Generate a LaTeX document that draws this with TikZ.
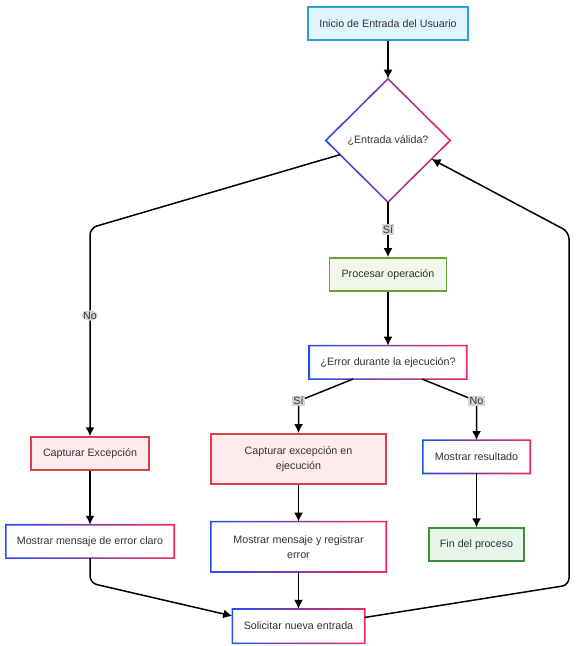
\documentclass[tikz,border=0pt]{standalone}
\usepackage{fontspec}
\setmainfont{Liberation Sans}
\usetikzlibrary{positioning, shapes.geometric, arrows.meta, calc}

\definecolor{txtgray}{HTML}{333333}
\definecolor{startfill}{HTML}{E1F5FE}
\definecolor{startline}{HTML}{2B9FD6}
\definecolor{procfill}{HTML}{F1F8E9}
\definecolor{procline}{HTML}{689F38}
\definecolor{endfill}{HTML}{E8F5E9}
\definecolor{endline}{HTML}{388E3C}
\definecolor{excfill}{HTML}{FFEBEE}
\definecolor{excline}{HTML}{D8404A}
\definecolor{gradL}{HTML}{2250F0}
\definecolor{gradR}{HTML}{F0285A}
\definecolor{lblfill}{HTML}{D4D4D4}

\tikzset{
  box/.style={rectangle, font=\fontsize{10.7}{15}\selectfont, text=txtgray,
    align=center, inner sep=0pt, minimum height=33pt},
  startbox/.style={box, fill=startfill, draw=startline, line width=1.5pt},
  procbox/.style={box, fill=procfill, draw=procline, line width=1.5pt},
  endbox/.style={box, fill=endfill, draw=endline, line width=1.5pt},
  excbox/.style={box, fill=excfill, draw=excline, line width=1.5pt},
  gradbox/.style={box, fill=white},
  decision/.style={diamond, fill=white, inner sep=0pt, text=txtgray,
    font=\fontsize{10.7}{15}\selectfont},
  flow/.style={-{Latex[length=9pt,width=9pt]}, line width=1.5pt, black},
  lbl/.style={fill=lblfill, text=txtgray, inner sep=1.3pt,
    font=\fontsize{10.7}{12}\selectfont}
}

\begin{document}
\begin{tikzpicture}[x=1pt, y=-1pt]
    \useasboundingbox (0,0) rectangle (576,646);
    % main column
    \node[startbox, minimum width=160pt] (start) at (388,23.5) {Inicio de Entrada del Usuario};
    \node[decision, minimum width=124pt, minimum height=123pt,
          below=38pt of start] (valid) {¿Entrada válida?};
    \node[procbox, minimum width=117pt,
          below=55pt of valid] (proc) {Procesar operación};
    \node[gradbox, minimum width=157pt,
          below=54pt of proc] (errq) {¿Error durante la ejecución?};
    % error branch
    \node[excbox, minimum width=175pt, minimum height=50pt,
          below=54pt of errq, xshift=-89.5pt] (runexc) {Capturar excepción en\\ejecución};
    \node[gradbox, minimum width=175pt, minimum height=50pt,
          below=37pt of runexc] (logmsg) {Mostrar mensaje y registrar\\error};
    \node[gradbox, minimum width=132pt, minimum height=34pt,
          below=37pt of logmsg] (retry) {Solicitar nueva entrada};
    % ok branch
    \node[gradbox, minimum width=107pt,
          below=61pt of errq, xshift=88.5pt] (result) {Mostrar resultado};
    \node[endbox, minimum width=95pt,
          below=54pt of result] (done) {Fin del proceso};
    % invalid input branch
    \node[excbox, minimum width=118pt] (catch) at (90,453.5) {Capturar Excepción};
    \node[gradbox, minimum width=168pt,
          below=54pt of catch] (errmsg) {Mostrar mensaje de error claro};

    % gradient borders
    \foreach \n in {errq, logmsg, retry, result, errmsg}
      \shade[left color=gradL, right color=gradR, even odd rule]
        ($(\n.south west)+(-0.8pt,-0.8pt)$) rectangle ($(\n.north east)+(0.8pt,0.8pt)$)
        ($(\n.south west)+(0.8pt,0.8pt)$) rectangle ($(\n.north east)+(-0.8pt,-0.8pt)$);
    \shade[left color=gradL, right color=gradR, even odd rule]
        ($(valid.north)+(0,1.15pt)$) -- ($(valid.east)+(1.15pt,0)$) --
        ($(valid.south)+(0,-1.15pt)$) -- ($(valid.west)+(-1.15pt,0)$) -- cycle
        ($(valid.north)+(0,-1.15pt)$) -- ($(valid.east)+(-1.15pt,0)$) --
        ($(valid.south)+(0,1.15pt)$) -- ($(valid.west)+(1.15pt,0)$) -- cycle;

    % bends
    \coordinate (bendNo) at (90,228);
    \coordinate (bendSi) at (298.5,401);
    \coordinate (bendOk) at (476.5,401);
    \coordinate (bendMsg) at (90,583);
    \coordinate (bendLow) at (569,585);
    \coordinate (bendUp) at (569,232);

    % connectors
    \draw[flow] (start) -- (valid);
    \draw[flow] (valid) -- node[lbl]{Sí} (proc);
    \draw[flow, rounded corners=7pt] ($(valid.west)!0.23!(valid.south)$) -- (bendNo)
        -- node[lbl, pos=0.42]{No} (catch);
    \draw[flow] (proc) -- (errq);
    \draw[flow] ($(errq.south)+(-35pt,0)$) -- (bendSi) node[lbl]{Sí} -- (runexc);
    \draw[flow] ($(errq.south)+(34pt,0)$) -- (bendOk) node[lbl]{No} -- (result);
    \draw[flow] (result) -- (done);
    \draw[flow] (runexc) -- (logmsg);
    \draw[flow] (logmsg) -- (retry);
    \draw[flow] (catch) -- (errmsg);
    \draw[flow, rounded corners=7pt] (errmsg) -- (bendMsg)
        -- ($(retry.north west)+(0,-7pt)$);
    \draw[flow, rounded corners=7pt] ($(retry.north east)+(0,-8.5pt)$) -- (bendLow)
        -- (bendUp) -- ($(valid.east)!0.3!(valid.south)$);
\end{tikzpicture}
\end{document}
